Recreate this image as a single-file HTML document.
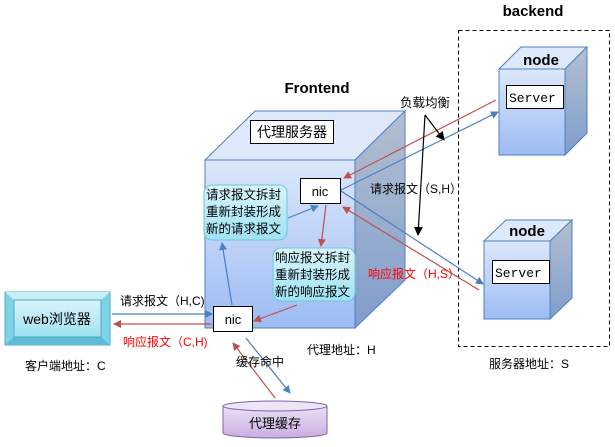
<!DOCTYPE html>
<html><head><meta charset="utf-8"><style>
body{margin:0;background:#fff}
svg{display:block;font-family:"Liberation Sans","Noto Sans CJK SC",sans-serif}
</style></head><body>
<svg width="615" height="447" viewBox="0 0 615 447" xmlns="http://www.w3.org/2000/svg">
<defs>
<linearGradient id="fg" x1="0" y1="0" x2="0" y2="1"><stop offset="0" stop-color="#dce7fb"/><stop offset="1" stop-color="#9dbcf3"/></linearGradient>
<linearGradient id="sg" x1="0" y1="0" x2="0" y2="1"><stop offset="0" stop-color="#b4bfd0"/><stop offset="1" stop-color="#7f9dcc"/></linearGradient>
<linearGradient id="bg" x1="0" y1="0" x2="0" y2="1"><stop offset="0" stop-color="#d9f4fb"/><stop offset="1" stop-color="#9fe1f2"/></linearGradient>
<linearGradient id="cg" x1="0" y1="0" x2="0" y2="1"><stop offset="0" stop-color="#ece0f5"/><stop offset="1" stop-color="#c9aee2"/></linearGradient>
<marker id="ab" markerWidth="8" markerHeight="8" refX="7" refY="4" orient="auto" markerUnits="userSpaceOnUse"><path d="M0,0 L8,4 L0,8z" fill="#4a7fc1"/></marker>
<marker id="ar" markerWidth="8" markerHeight="8" refX="7" refY="4" orient="auto" markerUnits="userSpaceOnUse"><path d="M0,0 L8,4 L0,8z" fill="#c0504d"/></marker>
<marker id="ak" markerWidth="9" markerHeight="9" refX="8" refY="4.5" orient="auto" markerUnits="userSpaceOnUse"><path d="M0,0 L9,4.5 L0,9z" fill="#000"/></marker>
</defs>

<text x="533" y="16" font-size="15" font-weight="bold" text-anchor="middle">backend</text>
<rect x="458.5" y="30.5" width="151" height="316" fill="none" stroke="#000" stroke-dasharray="4,3"/>

<!-- big cube -->
<polygon points="205,160 255,111 405,111 355,160" fill="#dde8fb" stroke="#4f81bd"/>
<polygon points="355,160 405,111 405,280 355,328" fill="url(#sg)" stroke="#4f81bd"/>
<rect x="205" y="160" width="150" height="168" fill="url(#fg)" stroke="#4f81bd"/>
<text x="317" y="93" font-size="15" font-weight="bold" text-anchor="middle">Frontend</text>
<rect x="250.5" y="120.5" width="83" height="23" fill="#fff" stroke="#000"/>
<text x="292" y="137" font-size="14" text-anchor="middle">代理服务器</text>

<!-- node 1 -->
<polygon points="499,69 521,47 587,47 565,69" fill="#dde8fb" stroke="#4f81bd"/>
<polygon points="565,69 587,47 587,133 565,155" fill="url(#sg)" stroke="#4f81bd"/>
<rect x="499" y="69" width="66" height="86" fill="url(#fg)" stroke="#4f81bd"/>
<text x="541" y="65" font-size="15" font-weight="bold" text-anchor="middle">node</text>
<rect x="506.5" y="85.5" width="57" height="23" fill="#fff" stroke="#000"/>
<text x="509" y="102" font-size="13" font-family="Liberation Mono,monospace">Server</text>
<!-- node 2 -->
<polygon points="484,241 506,220 572,220 550,241" fill="#dde8fb" stroke="#4f81bd"/>
<polygon points="550,241 572,220 572,298 550,319" fill="url(#sg)" stroke="#4f81bd"/>
<rect x="484" y="241" width="66" height="78" fill="url(#fg)" stroke="#4f81bd"/>
<text x="527" y="236" font-size="15" font-weight="bold" text-anchor="middle">node</text>
<rect x="492.5" y="260.5" width="57" height="23" fill="#fff" stroke="#000"/>
<text x="495" y="277" font-size="13" font-family="Liberation Mono,monospace">Server</text>

<!-- bubbles -->
<rect x="204" y="185" width="83" height="55" rx="8" fill="url(#bg)" stroke="#6ec6dc"/>
<text font-size="12.5"><tspan x="206" y="199">请求报文拆封</tspan><tspan x="206" y="216">重新封装形成</tspan><tspan x="206" y="233">新的请求报文</tspan></text>
<rect x="273" y="248" width="82" height="53" rx="8" fill="url(#bg)" stroke="#6ec6dc"/>
<text font-size="12.5"><tspan x="275" y="262">响应报文拆封</tspan><tspan x="275" y="279">重新封装形成</tspan><tspan x="275" y="296">新的响应报文</tspan></text>

<!-- nics -->
<rect x="300.5" y="178.5" width="40" height="25" fill="#fff" stroke="#000"/>
<text x="320" y="196" font-size="13" text-anchor="middle">nic</text>
<rect x="213.5" y="306.5" width="39" height="25" fill="#fff" stroke="#000"/>
<text x="233" y="324" font-size="13" text-anchor="middle">nic</text>

<!-- web -->
<rect x="5" y="292" width="105" height="53" fill="#7fd3e8" stroke="#4bacc6"/>
<polygon points="5,292 110,292 101,300 14,300" fill="#c8eef8"/>
<polygon points="5,345 110,345 101,337 14,337" fill="#5fbcd6"/>
<rect x="14" y="300" width="87" height="37" fill="url(#bg)" stroke="#4bacc6"/>
<text x="57" y="324" font-size="14" text-anchor="middle">web浏览器</text>

<!-- cylinder -->
<path d="M223,406 L223,433 A52,5 0 0 0 327,433 L327,406" fill="url(#cg)" stroke="#8064a2"/>
<ellipse cx="275" cy="406" rx="52" ry="5" fill="#efe5f7" stroke="#8064a2"/>
<text x="275" y="428" font-size="13" text-anchor="middle">代理缓存</text>

<!-- connectors -->
<g stroke-width="1.2" fill="none">
<line x1="112" y1="314" x2="212" y2="314" stroke="#4a7fc1" marker-end="url(#ab)"/>
<line x1="212" y1="324" x2="114" y2="324" stroke="#c0504d" marker-end="url(#ar)"/>
<line x1="232" y1="305" x2="222" y2="243" stroke="#4a7fc1" marker-end="url(#ab)"/>
<line x1="288" y1="218" x2="318" y2="206" stroke="#4a7fc1" marker-end="url(#ab)"/>
<line x1="326" y1="205" x2="321" y2="246" stroke="#c0504d" marker-end="url(#ar)"/>
<line x1="297" y1="305" x2="254" y2="321" stroke="#c0504d" marker-end="url(#ar)"/>
<line x1="341" y1="190" x2="498" y2="112" stroke="#4a7fc1" marker-end="url(#ab)"/>
<line x1="496" y1="100" x2="344" y2="178" stroke="#c0504d" marker-end="url(#ar)"/>
<line x1="341" y1="191" x2="483" y2="284" stroke="#4a7fc1" marker-end="url(#ab)"/>
<line x1="479" y1="290" x2="343" y2="207" stroke="#c0504d" marker-end="url(#ar)"/>
<line x1="246" y1="338" x2="290" y2="393" stroke="#4a7fc1" marker-end="url(#ab)"/>
<line x1="275" y1="398" x2="233" y2="343" stroke="#c0504d" marker-end="url(#ar)"/>
<line x1="425" y1="115" x2="444" y2="140" stroke="#000" marker-end="url(#ak)"/>
<line x1="425" y1="115" x2="418" y2="235" stroke="#000" marker-end="url(#ak)"/>
</g>

<text x="400" y="107" font-size="12.5">负载均衡</text>
<text x="370" y="193" font-size="12">请求报文（S,H）</text>
<text x="368" y="278" font-size="12" fill="#f00">响应报文（H,S）</text>
<text x="120" y="305" font-size="12">请求报文（H,C)</text>
<text x="123" y="346" font-size="12" fill="#f00">响应报文（C,H)</text>
<text x="236" y="366" font-size="12">缓存命中</text>
<text x="307" y="354" font-size="12">代理地址：H</text>
<text x="25" y="370" font-size="12">客户端地址：C</text>
<text x="489" y="368" font-size="12">服务器地址：S</text>
</svg>
</body></html>
